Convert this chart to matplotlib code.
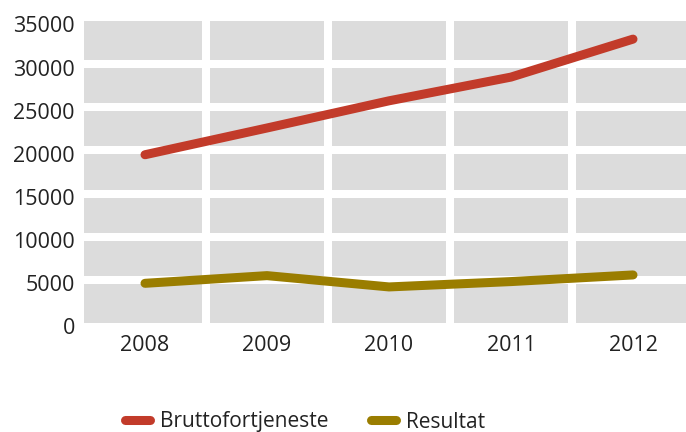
import matplotlib
matplotlib.use("Agg")
import matplotlib.pyplot as plt
from matplotlib.ticker import FixedLocator
from matplotlib.transforms import ScaledTranslation

years = ["2008", "2009", "2010", "2011", "2012"]
brutto = [19500, 22600, 25750, 28500, 32900]
resultat = [4600, 5490, 4180, 4800, 5570]
yticks = [0, 5000, 10000, 15000, 20000, 25000, 30000, 35000]

plt.rcParams['font.family'] = ['Open Sans', 'DejaVu Sans']

W, H = 686, 432
fig = plt.figure(figsize=(W / 100, H / 100), dpi=100)
ax = fig.add_axes([84 / W, (H - 323) / H, 610 / W, 302 / H])
ax.set_facecolor('#dcdcdc')

x = list(range(len(years)))
ax.plot(x, brutto, color='#c23b2a', lw=6.5, solid_capstyle='round', solid_joinstyle='round',
        label='Bruttofortjeneste', zorder=3)
ax.plot(x, resultat, color='#9a7d00', lw=6.5, solid_capstyle='round', solid_joinstyle='round',
        label='Resultat', zorder=3)

ax.set_xlim(-0.5, len(years) - 0.5)
ax.set_ylim(0, 35000)
ax.set_xticks(x)
ax.set_xticklabels(years)
ax.set_yticks(yticks)
ax.set_yticklabels([str(v) for v in yticks])
ax.xaxis.set_minor_locator(FixedLocator([i + 0.5 for i in range(len(years) - 1)]))

ax.grid(False)
for v in yticks[1:-1]:
    ax.axhline(v, color='white', lw=5.8, zorder=1)
for i in range(len(years) - 1):
    ax.axvline(i + 0.5, color='white', lw=5.8, zorder=1)

for s in ax.spines.values():
    s.set_visible(False)
ax.tick_params(axis='both', which='both', length=0, labelsize=15.5, colors='#222222')
ax.tick_params(axis='y', pad=6.5)
ax.tick_params(axis='x', pad=8.5)

off = ScaledTranslation(0, -3.5 / 100, fig.dpi_scale_trans)
for lab in ax.get_yticklabels():
    lab.set_transform(lab.get_transform() + off)

fig.legend(loc='center', bbox_to_anchor=(305 / W, 1 - 422 / H), ncol=2, frameon=False,
           fontsize=15, handlelength=1.2, handletextpad=0.5, columnspacing=2.0,
           labelcolor='#222222')

fig.savefig('out.png', dpi=100)
